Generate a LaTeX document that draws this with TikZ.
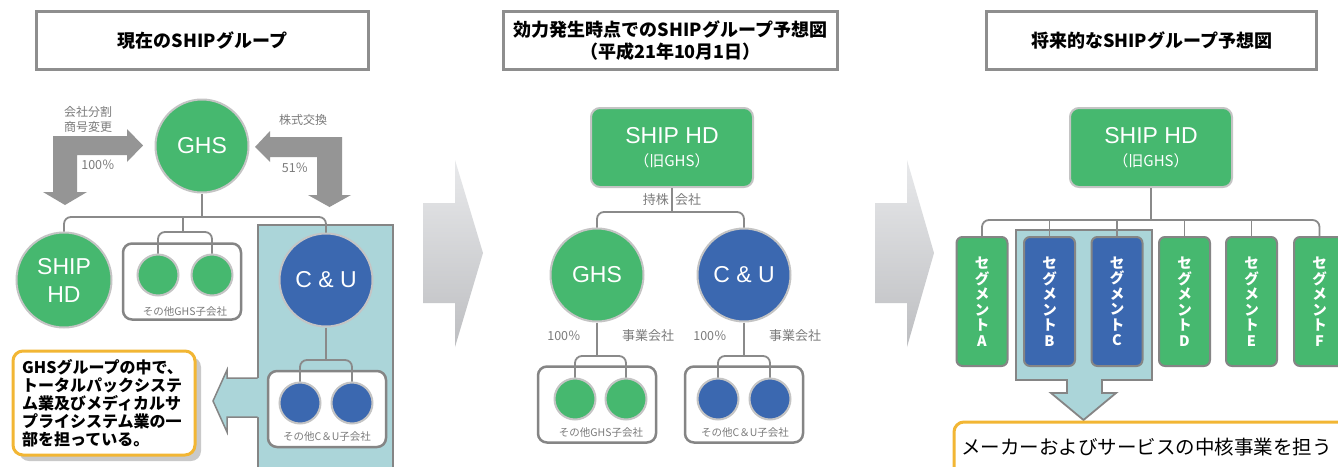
\documentclass[tikz,border=0pt]{standalone}
\usepackage{fontspec}
\setmainfont{Liberation Sans}
\newfontfamily\jp{Noto Sans CJK JP}
\definecolor{ggreen}{HTML}{46B86F}
\definecolor{gblue}{HTML}{3B68B0}
\definecolor{lblue}{HTML}{ABD5D9}
\definecolor{lineg}{HTML}{8A8A8A}
\definecolor{circb}{HTML}{C4C4C4}
\definecolor{boxg}{HTML}{858585}
\definecolor{titleg}{HTML}{8E8E8E}
\definecolor{labg}{HTML}{7B7B7B}
\definecolor{ayel}{HTML}{F2B634}
\definecolor{arrg}{HTML}{959595}
\definecolor{shad}{HTML}{C9C9C9}
\definecolor{chevT}{HTML}{E8E9EB}
\definecolor{chevB}{HTML}{BDBEC1}
\begin{document}
\begin{tikzpicture}[x=1pt,y=-1pt,
  conn/.style={draw=lineg, line width=1.8pt, rounded corners=7pt},
  bigc/.style={circle, draw=circb, line width=2pt, minimum size=93pt, inner sep=0pt, text=white, font=\fontsize{23}{28}\selectfont},
  smallc/.style={circle, draw=circb, line width=2pt, minimum size=41pt, inner sep=0pt},
  subbox/.style={draw=boxg, line width=2.5pt, rounded corners=9pt, fill=white, minimum width=118pt, minimum height=76pt, inner sep=0pt},
  titlebox/.style={draw=titleg, line width=3.5pt, fill=white, inner sep=0pt, align=center, font=\jp\bfseries\fontsize{18}{22}\selectfont},
  glabel/.style={text=labg, font=\jp\fontsize{12.5}{15}\selectfont, inner sep=0pt},
  caption/.style={text=labg, font=\jp\fontsize{10.5}{12}\selectfont, inner sep=0pt},
  hdbox/.style={rectangle, rounded corners=9pt, fill=ggreen, draw=circb, line width=2pt, minimum width=162pt, minimum height=79pt, inner sep=0pt},
  hdtext/.style={text=white, inner sep=0pt},
  segbox/.style={rectangle, rounded corners=6pt, draw=boxg, line width=2pt, minimum width=51pt, minimum height=129pt, text=white, align=center, inner sep=0pt, font=\jp\bfseries\fontsize{14.5}{15.5}\selectfont},
  bigarrow/.style={fill=arrg}
]
\useasboundingbox (0,0) rectangle (1338,466);
\clip (0,0) rectangle (1338,466);
\fill[white] (0,0) rectangle (1338,466);

% ================= LEFT PANEL =================
\node[titlebox, minimum width=332pt, minimum height=58pt] (t1) at (202.5,40.5) {現在のSHIPグループ};

% bent arrows
\fill[bigarrow] (53,136) -- (127,136) -- (127,129) -- (143,145.5) -- (127,162) -- (127,155) -- (77,155) -- (77,192) -- (87,192) -- (65,205) -- (43,192) -- (53,192) -- cycle;
\fill[bigarrow] (342,137) -- (270,137) -- (270,131) -- (255,147) -- (270,162) -- (270,157) -- (317,157) -- (317,195) -- (308,195) -- (329.5,207) -- (351,195) -- (342,195) -- cycle;
\node[glabel, align=center, font=\jp\fontsize{12}{15}\selectfont] (l1) at (88,119.5) {会社分割\\商号変更};
\node[glabel] (l2) at (98,165) {100％};
\node[glabel, font=\jp\fontsize{12}{15}\selectfont] (l3) at (303,120) {株式交換};
\node[glabel] (l4) at (295,168) {51％};

% light blue panel and arrow to callout
\draw[draw=boxg, line width=1.5pt, fill=lblue] (258,225) rectangle (393,470);
\fill[lblue] (260,378) -- (227,378) -- (227,370) -- (213,401) -- (227,432) -- (227,417) -- (260,417) -- cycle;
\draw[boxg, line width=1.5pt, line join=miter] (257.5,378) -- (227,378) -- (227,370) -- (213,401) -- (227,432) -- (227,417) -- (257.5,417);

% callout
\fill[shad, rounded corners=10pt] (19,357) rectangle (201,461);
\draw[ayel, line width=3pt, fill=white, rounded corners=10pt] (13,351) rectangle (195,455);
\node[anchor=north west, align=left, inner sep=0pt, font=\jp\bfseries\fontsize{16}{18}\selectfont] (callL) at (22,359.5) {GHSグループの中で、\\トータルパックシステ\\ム業及びメディカルサ\\プライシステム業の一\\部を担っている。};

% sub boxes
\node[subbox] (sbLg) at (182,281.5) {};
\node[subbox] (sbLc) at (327,409) {};
\node[caption] (cLg) at (185,312) {その他GHS子会社};
\node[caption] (cLc) at (327,437) {その他C＆U子会社};

% circles
\node[bigc, fill=ggreen] (ghsL) at (202,146) {GHS};
\node[bigc, fill=ggreen, minimum size=95pt, align=center] (shipL) at (64,280) {SHIP\\HD};
\node[bigc, fill=gblue] (cuL) at (326,280) {C \& U};
\node[smallc, fill=ggreen] (sL1) at (158,275) {};
\node[smallc, fill=ggreen] (sL2) at (212,275) {};
\node[smallc, fill=gblue] (sL3) at (300,403) {};
\node[smallc, fill=gblue] (sL4) at (352,403) {};

% connectors
\coordinate (busL) at (0,217);
\coordinate (dropL) at (183,217);
\coordinate (brL) at (183,232);
\coordinate (brLc) at (0,360);
\draw[conn] (shipL.north) -- (shipL.north |- busL) -- (cuL.north |- busL) -- (cuL.north);
\draw[conn] (ghsL.south) -- (ghsL.south |- busL);
\draw[conn] (dropL) -- (brL);
\draw[conn] (sL1.north) -- (sL1.north |- brL) -- (sL2.north |- brL) -- (sL2.north);
\draw[conn] (cuL.south) -- (cuL.south |- brLc);
\draw[conn] (sL3.north) -- (sL3.north |- brLc) -- (sL4.north |- brLc) -- (sL4.north);

% big chevron arrows
\shade[top color=chevT, bottom color=chevB] (423,203) -- (455,203) -- (455,160) -- (483,253) -- (455,347) -- (455,303) -- (423,303) -- cycle;
\shade[top color=chevT, bottom color=chevB] (875,203) -- (907,203) -- (907,160) -- (934,253) -- (907,347) -- (907,303) -- (875,303) -- cycle;

% ================= MIDDLE PANEL =================
\node[titlebox, minimum width=334pt, minimum height=58pt] (t2) at (670.5,40.5) {効力発生時点でのSHIPグループ予想図\\（平成21年10月1日）};

\node[hdbox] (hdM) at (672,147.5) {};
\node[hdtext, font=\fontsize{23}{24}\selectfont] (hdM1) at (672,136) {SHIP HD};
\node[hdtext, font=\jp\fontsize{15}{17}\selectfont] (hdM2) at (672,161) {（旧GHS）};
\node[glabel, anchor=east, font=\jp\fontsize{13}{15}\selectfont] (lm1) at (669,200) {持株};
\node[glabel, anchor=west, font=\jp\fontsize{13}{15}\selectfont] (lm2) at (675,200) {会社};

\node[subbox] (sbMg) at (597,404.5) {};
\node[subbox] (sbMc) at (744,404.5) {};
\node[caption] (cMg) at (601,433) {その他GHS子会社};
\node[caption] (cMc) at (745,433) {その他C＆U子会社};

\node[bigc, fill=ggreen] (ghsM) at (597,275) {GHS};
\node[bigc, fill=gblue] (cuM) at (744,275) {C \& U};
\node[smallc, fill=ggreen] (sM1) at (575,399) {};
\node[smallc, fill=ggreen] (sM2) at (626,399) {};
\node[smallc, fill=gblue] (sM3) at (718,399) {};
\node[smallc, fill=gblue] (sM4) at (770,399) {};

\node[glabel] (lm3) at (564,336) {100％};
\node[glabel, font=\jp\fontsize{13}{15}\selectfont] (lm4) at (648,336) {事業会社};
\node[glabel] (lm5) at (710,336) {100％};
\node[glabel, font=\jp\fontsize{13}{15}\selectfont] (lm6) at (795,336) {事業会社};

\coordinate (busM) at (0,212);
\coordinate (brM) at (0,356);
\draw[conn] (hdM.south) -- (hdM.south |- busM);
\draw[conn] (ghsM.north) -- (ghsM.north |- busM) -- (cuM.north |- busM) -- (cuM.north);
\draw[conn] (ghsM.south) -- (ghsM.south |- brM);
\draw[conn] (sM1.north) -- (sM1.north |- brM) -- (sM2.north |- brM) -- (sM2.north);
\draw[conn] (cuM.south) -- (cuM.south |- brM);
\draw[conn] (sM3.north) -- (sM3.north |- brM) -- (sM4.north |- brM) -- (sM4.north);

% ================= RIGHT PANEL =================
\node[titlebox, minimum width=330pt, minimum height=58pt] (t3) at (1151.5,40.5) {将来的なSHIPグループ予想図};

\node[hdbox] (hdR) at (1151,147.5) {};
\node[hdtext, font=\fontsize{23}{24}\selectfont] (hdR1) at (1151,136) {SHIP HD};
\node[hdtext, font=\jp\fontsize{15}{17}\selectfont] (hdR2) at (1151,161) {（旧GHS）};

% light blue panel with down arrow
\draw[draw=boxg, line width=1.8pt, fill=lblue, line join=miter] (1016,230) -- (1152,230) -- (1152,380) -- (1102,380) -- (1102,393) -- (1116,393) -- (1083.5,420) -- (1051,393) -- (1067,393) -- (1067,380) -- (1016,380) -- cycle;

\node[segbox, fill=ggreen] (segA) at (982,301.5) {セ\\グ\\メ\\ン\\ト\\A};
\node[segbox, fill=gblue] (segB) at (1049.5,301.5) {セ\\グ\\メ\\ン\\ト\\B};
\node[segbox, fill=gblue] (segC) at (1117,301.5) {セ\\グ\\メ\\ン\\ト\\C};
\node[segbox, fill=ggreen] (segD) at (1184.5,301.5) {セ\\グ\\メ\\ン\\ト\\D};
\node[segbox, fill=ggreen] (segE) at (1251.5,301.5) {セ\\グ\\メ\\ン\\ト\\E};
\node[segbox, fill=ggreen] (segF) at (1319.5,301.5) {セ\\グ\\メ\\ン\\ト\\F};

\coordinate (busR) at (0,220);
\draw[conn] (hdR.south) -- (hdR.south |- busR);
\draw[conn] (segA.north) -- (segA.north |- busR) -- (segF.north |- busR) -- (segF.north);
\draw[conn] (segB.north) -- (segB.north |- busR);
\draw[conn] (segC.north) -- (segC.north |- busR);
\draw[conn] (segD.north) -- (segD.north |- busR);
\draw[conn] (segE.north) -- (segE.north |- busR);

% bottom callout
\draw[ayel, line width=3pt, fill=white, rounded corners=10pt] (954,422) rectangle (1365,495);
\node[anchor=west, inner sep=0pt, font=\jp\fontsize{19.5}{22}\selectfont] (callR) at (961,447) {メーカーおよびサービスの中核事業を担う};
\end{tikzpicture}
\end{document}
